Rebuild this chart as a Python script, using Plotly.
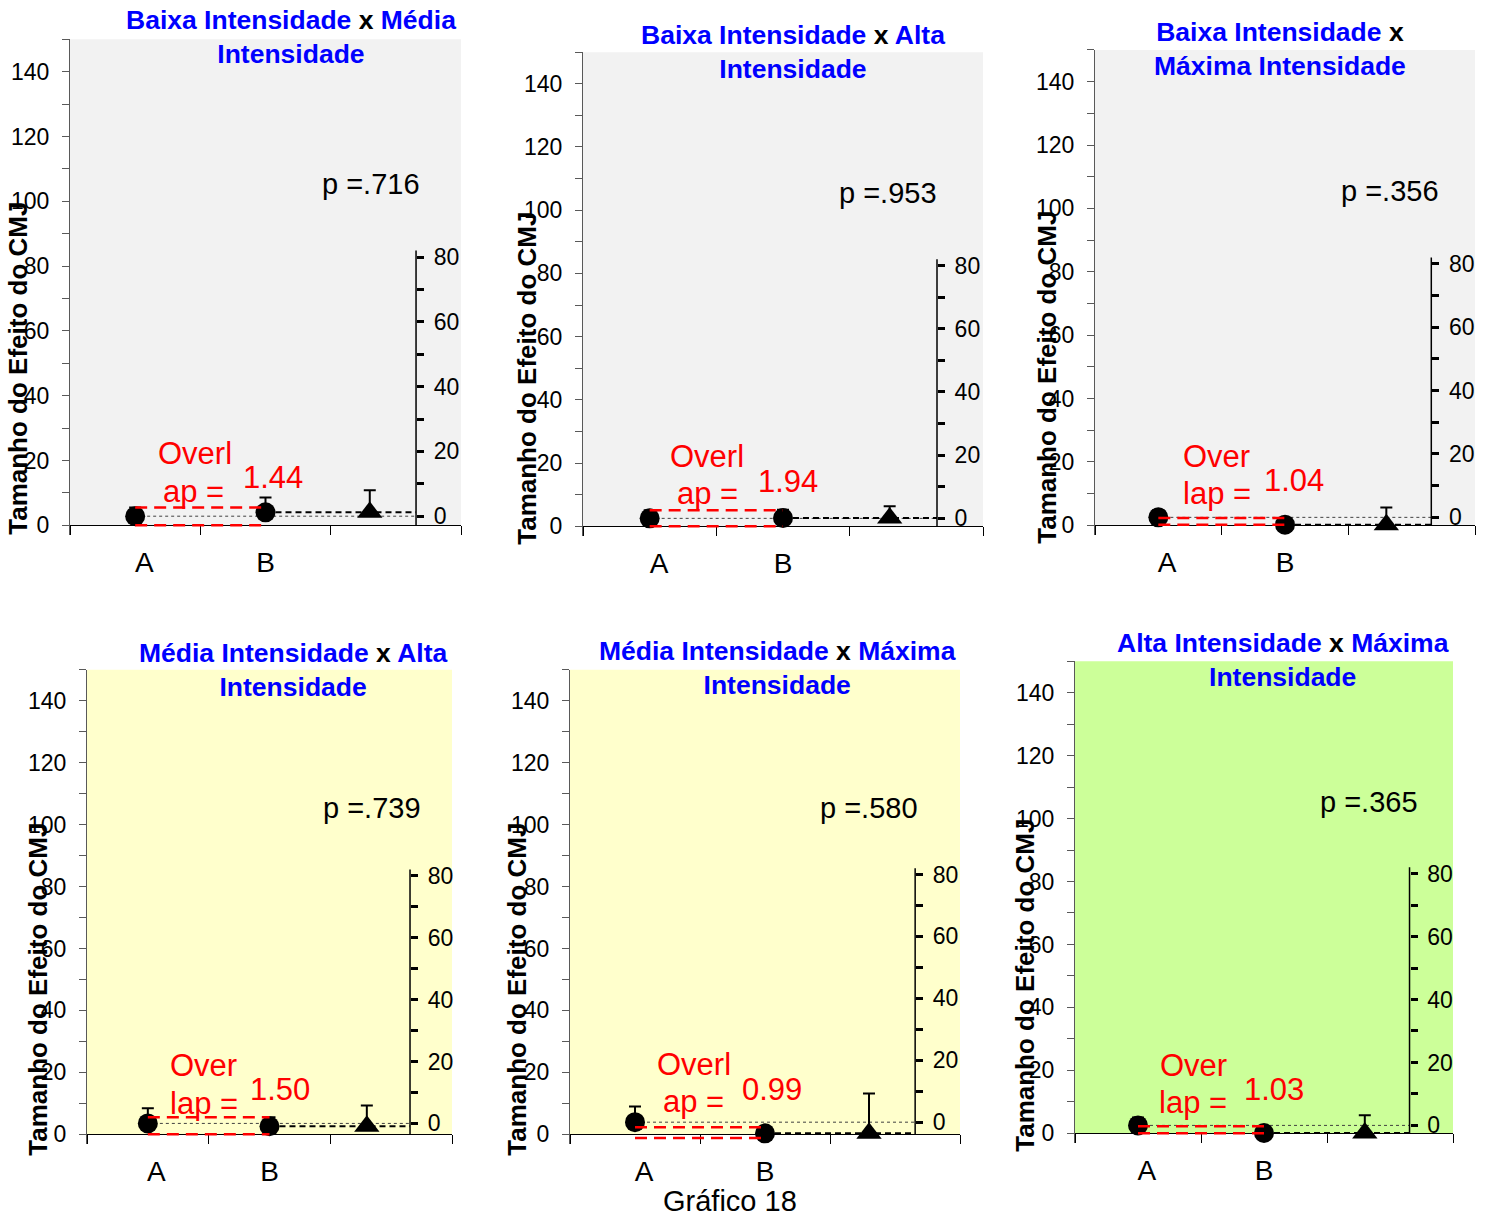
import plotly.graph_objects as go

W, H = 1485, 1217

# ---------------- data ----------------
categories = ["A", "B"]
group_left = ["Baixa", "Baixa", "Baixa", "Média", "Média", "Alta"]
group_right = ["Média", "Alta", "Máxima", "Alta", "Máxima", "Máxima"]
title_break_after_x = [False, False, True, False, False, False]
mean_a = [2.8, 2.5, 2.5, 3.5, 3.9, 2.5]
err_a = [2.7, 2.6, 2.3, 4.9, 5.1, 2.5]
mean_b = [4.0, 2.6, 0.2, 2.6, 0.3, 0.1]
err_b = [4.6, 2.6, 2.1, 2.9, 2.0, 2.1]
diff_ba = [1.2, 0.1, -2.3, -0.9, -3.6, -2.4]
err_diff = [6.8, 3.7, 5.4, 6.7, 12.9, 5.6]
overlap_hi = [5.5, 5.1, 2.3, 5.5, 2.3, 2.2]
overlap_lo = [0.0, 0.0, 0.2, 0.0, -1.2, 0.0]
overlap_val = ["1.44", "1.94", "1.04", "1.50", "0.99", "1.03"]
overlap_word1 = ["Overl", "Overl", "Over", "Over", "Overl", "Over"]
overlap_word2 = ["ap =", "ap =", "lap =", "lap =", "ap =", "lap ="]
p_val = [".716", ".953", ".356", ".739", ".580", ".365"]
left_ticks = [0, 20, 40, 60, 80, 100, 120, 140]
left_minor = [10, 30, 50, 70, 90, 110, 130, 150]
right_ticks = [0, 20, 40, 60, 80]
right_minor = [10, 30, 50, 70]
y_title = "Tamanho do Efeito do CMJ"
caption = "Gráfico 18"

# ---------------- geometry / style ----------------
px_left = [70, 583, 1095, 87, 570, 1075]
px_right = [461, 983, 1475, 452, 960, 1453]
px_zero = [527, 528, 527, 1138, 1138, 1137]
px_unit = [3.25, 3.171, 3.179, 3.107, 3.107, 3.157]
bg_colors = ["#F2F2F2", "#F2F2F2", "#F2F2F2", "#FFFFCC", "#FFFFCC", "#CCFF99"]
title_px = [(291, 37.5), (793, 52), (1280, 49), (293, 672), (777, 670), (1283, 662)]
ytitle_px = [(18, 370), (527, 380), (1047, 379), (38, 993), (517, 993), (1025, 989)]
word1_pos = [(0.96, 22.2), (0.93, 22.0), (0.96, 21.7), (0.96, 22.2), (0.95, 22.5), (0.94, 21.5)]
word2_pos = [(0.95, 10.5), (0.93, 10.4), (0.96, 10.0), (0.96, 10.0), (0.95, 10.6), (0.94, 9.8)]
num_pos = [(1.56, 14.8), (1.54, 14.2), (1.57, 14.2), (1.59, 14.5), (1.55, 14.5), (1.58, 13.9)]
p_center_x = [2.31, 2.29, 2.33, 2.34, 2.30, 2.33]
p_y = 105.4
label_shift = [0.07, 0.0]   # category label offset from the marker position
RIGHT_AX = 2.655
TRI_X = 2.30
Y_MIN, Y_MAX = -3, 150
FONT = "Arial, Liberation Sans, sans-serif"
BLUE = "#0000FF"
RED = "#FF0000"

cat_pos = [i + 0.5 for i in range(len(categories))]
label_pos = [c + s for c, s in zip(cat_pos, label_shift)]


def py(px):
    return 1 - px / H


def px_(x):
    return x / W


fig = go.Figure()
layout = dict(
    width=W, height=H, margin=dict(l=0, r=0, t=0, b=0),
    paper_bgcolor="white", plot_bgcolor="rgba(0,0,0,0)",
    showlegend=False, font=dict(family=FONT, color="black"),
)
shapes = []
annotations = []

for i in range(6):
    xn = f"x{i+1}"
    yn = f"y{i+1}"
    yr = f"y{i+7}"
    l, r, z, u = px_left[i], px_right[i], px_zero[i], px_unit[i]
    bottom_px = z - Y_MIN * u
    top_px = z - Y_MAX * u
    dom_y = [py(bottom_px), py(top_px)]
    right_px = l + RIGHT_AX * (r - l) / 3

    layout[f"xaxis{i+1}"] = dict(
        domain=[px_(l), px_(r)], range=[0, 3], anchor="free", position=py(z),
        tickvals=label_pos, ticktext=categories, ticks="",
        showline=True, linecolor="black", linewidth=1, layer="below traces",
        minor=dict(tickvals=[0, 1, 2, 3], ticks="outside", ticklen=9, tickcolor="black", tickwidth=1),
        tickfont=dict(size=28, family=FONT), ticklabelstandoff=12,
        showgrid=False, zeroline=False, fixedrange=True,
    )
    layout[f"yaxis{i+1}"] = dict(
        domain=dom_y, range=[Y_MIN, Y_MAX], anchor=xn,
        tickvals=left_ticks, ticks="outside", ticklen=7, tickcolor="#595959", tickwidth=1,
        showline=True, linecolor="#595959", linewidth=1, layer="below traces",
        minor=dict(tickvals=left_minor, ticks="outside", ticklen=7, tickcolor="#595959", tickwidth=1),
        tickfont=dict(size=23, family=FONT), ticklabelstandoff=8,
        showgrid=False, zeroline=False, fixedrange=True,
    )
    layout[f"yaxis{i+7}"] = dict(
        range=[Y_MIN - mean_a[i], Y_MAX - mean_a[i]], overlaying=yn,
        anchor="free", position=px_(right_px), side="right",
        tickvals=right_ticks, ticks="outside", ticklen=7, tickwidth=3, tickcolor="black",
        showline=False,
        minor=dict(tickvals=right_minor, ticks="outside", ticklen=7, tickwidth=3, tickcolor="black"),
        tickfont=dict(size=23, family=FONT), ticklabelstandoff=5,
        showgrid=False, zeroline=False, fixedrange=True,
    )

    # background of plot area (from 0 up to top)
    shapes.append(dict(type="rect", xref="paper", yref="paper",
                       x0=px_(l), x1=px_(r), y0=py(z), y1=py(top_px),
                       fillcolor=bg_colors[i], line=dict(width=0), layer="below"))

    # dotted line at A level
    fig.add_trace(go.Scatter(x=[cat_pos[0], RIGHT_AX], y=[mean_a[i], mean_a[i]], mode="lines",
                             line=dict(color="#404040", width=1, dash="dot"),
                             xaxis=xn, yaxis=yn, hoverinfo="skip"))
    # dashed line at B level
    fig.add_trace(go.Scatter(x=[cat_pos[1], RIGHT_AX], y=[mean_b[i], mean_b[i]], mode="lines",
                             line=dict(color="black", width=2, dash="6px,4px"),
                             xaxis=xn, yaxis=yn, hoverinfo="skip"))
    # right (difference) axis line
    fig.add_trace(go.Scatter(x=[RIGHT_AX, RIGHT_AX], y=[-mean_a[i], 82], mode="lines",
                             line=dict(color="black", width=1.5),
                             xaxis=xn, yaxis=yr, hoverinfo="skip"))
    # group means
    fig.add_trace(go.Scatter(
        x=cat_pos, y=[mean_a[i], mean_b[i]], mode="markers",
        marker=dict(symbol="circle", size=20, color="black"),
        error_y=dict(type="data", symmetric=False, array=[err_a[i], err_b[i]], arrayminus=[0, 0],
                     color="black", thickness=2, width=6),
        cliponaxis=False, xaxis=xn, yaxis=yn))
    # difference
    fig.add_trace(go.Scatter(
        x=[TRI_X], y=[diff_ba[i]], mode="markers",
        marker=dict(symbol="triangle-up", size=22, color="black"),
        error_y=dict(type="data", symmetric=False, array=[err_diff[i]], arrayminus=[0],
                     color="black", thickness=2, width=6),
        cliponaxis=False, xaxis=xn, yaxis=yr))
    # overlap lines
    for yv in (overlap_hi[i], overlap_lo[i]):
        fig.add_trace(go.Scatter(x=cat_pos, y=[yv, yv], mode="lines",
                                 line=dict(color=RED, width=2.5, dash="12px,7px"),
                                 xaxis=xn, yaxis=yn, hoverinfo="skip"))

    # texts
    for txt, (ax_, ay_) in ((overlap_word1[i], word1_pos[i]), (overlap_word2[i], word2_pos[i]),
                            (overlap_val[i], num_pos[i])):
        annotations.append(dict(text=txt, x=ax_, y=ay_, xref=xn, yref=yn, showarrow=False,
                                xanchor="center", yanchor="middle",
                                font=dict(size=31, color=RED, family=FONT)))
    annotations.append(dict(text=f"p ={p_val[i]}", x=p_center_x[i], y=p_y, xref=xn, yref=yn,
                            showarrow=False, xanchor="center", yanchor="middle",
                            font=dict(size=29, family=FONT)))

    # title
    b = lambda s: f"<span style='color:{BLUE}'>{s}</span>"
    if title_break_after_x[i]:
        ttl = f"{b(group_left[i] + ' Intensidade')} x<br>{b(group_right[i] + ' Intensidade')}"
    else:
        ttl = f"{b(group_left[i] + ' Intensidade')} x {b(group_right[i])}<br>{b('Intensidade')}"
    tx, ty = title_px[i]
    annotations.append(dict(text=f"<b>{ttl}</b>", x=px_(tx), y=py(ty), xref="paper", yref="paper",
                            showarrow=False, xanchor="center", yanchor="middle", align="center",
                            font=dict(size=26.5, color="black", family=FONT)))
    # y title
    yx, yy = ytitle_px[i]
    annotations.append(dict(text=f"<b>{y_title}</b>", x=px_(yx), y=py(yy), xref="paper", yref="paper",
                            showarrow=False, textangle=-90, xanchor="center", yanchor="middle",
                            font=dict(size=26, color="black", family=FONT)))

annotations.append(dict(text=caption, x=px_(730), y=py(1205), xref="paper", yref="paper",
                        showarrow=False, xanchor="center", yanchor="middle",
                        font=dict(size=29, color="black", family=FONT)))

layout["shapes"] = shapes
layout["annotations"] = annotations
fig.update_layout(**layout)
fig.write_html("out.html")
